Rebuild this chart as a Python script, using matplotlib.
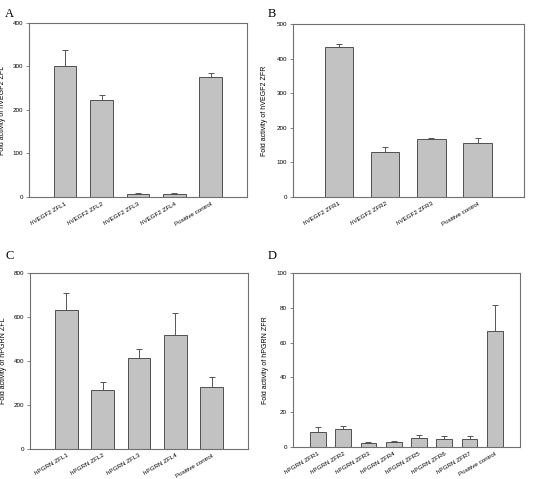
import numpy as np
import matplotlib
matplotlib.use('Agg')
import matplotlib.pyplot as plt

# --- DATA ---
labels_a = ['hVEGF2 ZFL1', 'hVEGF2 ZFL2', 'hVEGF2 ZFL3', 'hVEGF2 ZFL4', 'Positive control']
vals_a = [302, 222, 7, 7, 275]
errs_a = [35, 13, 3, 1, 11]

labels_b = ['hVEGF2 ZFR1', 'hVEGF2 ZFR2', 'hVEGF2 ZFR3', 'Positive control']
vals_b = [433, 130, 167, 157]
errs_b = [10, 13, 3, 13]

labels_c = ['hPGRN ZFL1', 'hPGRN ZFL2', 'hPGRN ZFL3', 'hPGRN ZFL4', 'Positive control']
vals_c = [632, 267, 412, 517, 280]
errs_c = [75, 35, 40, 100, 45]

labels_d = ['hPGRN ZFR1', 'hPGRN ZFR2', 'hPGRN ZFR3', 'hPGRN ZFR4', 'hPGRN ZFR5',
            'hPGRN ZFR6', 'hPGRN ZFR7', 'Positive control']
vals_d = [8.5, 10.5, 2.5, 3.0, 5.0, 4.5, 4.5, 66.5]
errs_d = [2.8, 1.5, 0.3, 0.6, 2.0, 1.5, 2.0, 15]

plt.rcParams['font.family'] = ['Liberation Sans', 'DejaVu Sans']

W, H = 544, 479
fig = plt.figure(figsize=(W / 100, H / 100), dpi=100)

# letter, axes rect, letter pos (px), labels, values, errors, ymax, ystep, ylabel
panels = [
    ('A', [0.053, 0.589, 0.401, 0.363], (5, 14), labels_a, vals_a, errs_a, 400, 100, 'Fold activity of hVEGF2 ZFL'),
    ('B', [0.538, 0.589, 0.425, 0.361], (268, 14), labels_b, vals_b, errs_b, 500, 100, 'Fold activity of hVEGF2 ZFR'),
    ('C', [0.055, 0.063, 0.401, 0.368], (5, 256), labels_c, vals_c, errs_c, 800, 200, 'Fold activity of hPGRN ZFL'),
    ('D', [0.538, 0.067, 0.418, 0.363], (268, 256), labels_d, vals_d, errs_d, 100, 20, 'Fold activity of hPGRN ZFR'),
]

for letter, rect, lpos, labels, vals, errs, ymax, ystep, ylab in panels:
    ax = fig.add_axes(rect)
    x = np.arange(len(vals))
    ax.bar(x, vals, width=0.62, color='#c2c2c2', edgecolor='#505050', linewidth=0.7, zorder=2)
    ax.errorbar(x, vals, yerr=[np.zeros(len(errs)), errs], fmt='none', ecolor='#555555',
                elinewidth=0.7, capsize=2.2, capthick=0.7, zorder=1)
    ax.set_xlim(-1, len(vals))
    ax.set_ylim(0, ymax)
    ax.set_yticks(np.arange(0, ymax + 1, ystep))
    ax.set_xticks(x)
    ax.set_xticklabels(labels, rotation=30, ha='right', rotation_mode='anchor', fontsize=4.5)
    ax.tick_params(axis='x', length=0, pad=3)
    ax.tick_params(axis='y', labelsize=4.5, length=2, width=0.5, color='#555555', pad=2)
    for sp in ax.spines.values():
        sp.set_color('#707070')
        sp.set_linewidth(0.8)
    ax.set_ylabel(ylab, fontsize=5)
    ax.yaxis.set_label_coords(-0.105, 0.5)
    fig.text(lpos[0] / W, 1 - lpos[1] / H, letter, fontsize=9,
             family='Liberation Serif', ha='left', va='center')

plt.savefig('out.png', dpi=100)
